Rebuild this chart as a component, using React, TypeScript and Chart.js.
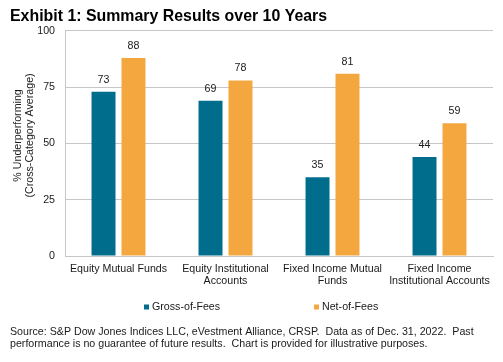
import React, { useEffect, useRef } from 'react';
import { Chart, registerables } from 'chart.js';

Chart.register(...registerables);

const categories: (string | string[])[] = [
  'Equity Mutual Funds',
  ['Equity Institutional', 'Accounts'],
  ['Fixed Income Mutual', 'Funds'],
  ['Fixed Income', 'Institutional Accounts'],
];
const grossOfFees = [73, 69, 35, 44];
const netOfFees = [88, 78, 81, 59];
const seriesNames = ['Gross-of-Fees', 'Net-of-Fees'];
const yMin = 0;
const yMax = 100;
const yStep = 25;
const titleText = 'Exhibit 1: Summary Results over 10 Years';
const yAxisTitle = ['% Underperforming', '(Cross-Category Average)'];
const sourceText = [
  'Source: S&P Dow Jones Indices LLC, eVestment Alliance, CRSP.  Data as of Dec. 31, 2022.  Past',
  'performance is no guarantee of future results.  Chart is provided for illustrative purposes.',
];

const FONT = '"Liberation Sans", Arial, Helvetica, sans-serif';
const FS = 10.67;
const TEAL = '#006D8C';
const ORANGE = '#F5A73F';
const TEXT = '#1a1a1a';
const GRID = '#c6c6c6';

const valueLabels = {
  id: 'valueLabels',
  afterDatasetsDraw(chart: any) {
    const ctx = chart.ctx;
    ctx.save();
    ctx.font = `${FS}px ${FONT}`;
    ctx.fillStyle = TEXT;
    ctx.textAlign = 'center';
    ctx.textBaseline = 'middle';
    chart.data.datasets.forEach((ds: any, i: number) => {
      const meta = chart.getDatasetMeta(i);
      meta.data.forEach((bar: any, j: number) => {
        ctx.fillText(String(ds.data[j]), bar.x, bar.y - 12);
      });
    });
    ctx.restore();
  },
};

const yTitlePlugin = {
  id: 'yTitlePlugin',
  afterDraw(chart: any) {
    const ctx = chart.ctx;
    const area = chart.chartArea;
    const cy = (area.top + area.bottom) / 2 - 8;
    ctx.save();
    ctx.font = `${FS}px ${FONT}`;
    ctx.fillStyle = TEXT;
    ctx.textAlign = 'center';
    ctx.textBaseline = 'middle';
    const xs = [18, 30];
    yAxisTitle.forEach((line, i) => {
      ctx.save();
      ctx.translate(xs[i], cy);
      ctx.rotate(-Math.PI / 2);
      ctx.fillText(line, 0, 0);
      ctx.restore();
    });
    ctx.restore();
  },
};

const bottomLegend = {
  id: 'bottomLegend',
  afterDraw(chart: any) {
    const ctx = chart.ctx;
    const xs = [144, 314];
    const y = 307;
    ctx.save();
    ctx.font = `${FS}px ${FONT}`;
    ctx.textAlign = 'left';
    ctx.textBaseline = 'middle';
    chart.data.datasets.forEach((ds: any, i: number) => {
      const x = xs[i];
      ctx.fillStyle = ds.backgroundColor;
      ctx.fillRect(x, y - 2.5, 5, 5);
      ctx.fillStyle = TEXT;
      ctx.fillText(ds.label, x + 8, y);
    });
    ctx.restore();
  },
};

export default function App() {
  const canvasRef = useRef<HTMLCanvasElement | null>(null);

  useEffect(() => {
    document.body.style.margin = '0';
    const canvas = canvasRef.current;
    if (!canvas) return;
    Chart.defaults.font.family = FONT;
    const chart = new Chart(canvas, {
      type: 'bar',
      data: {
        labels: categories as any,
        datasets: [
          {
            label: seriesNames[0],
            data: grossOfFees,
            backgroundColor: TEAL,
            categoryPercentage: 0.56,
            barPercentage: 0.8,
          },
          {
            label: seriesNames[1],
            data: netOfFees,
            backgroundColor: ORANGE,
            categoryPercentage: 0.56,
            barPercentage: 0.8,
          },
        ],
      },
      options: {
        responsive: false,
        maintainAspectRatio: false,
        animation: false,
        layout: { padding: { left: 10, right: 10, top: 0, bottom: 0 } },
        plugins: {
          legend: { display: false },
          tooltip: { enabled: false },
          title: {
            display: true,
            text: titleText,
            align: 'start',
            color: '#000',
            font: { size: 15.9, weight: 'bold', lineHeight: 1.2, family: FONT },
            padding: { top: 7.2, bottom: 4.6 },
          },
          subtitle: {
            display: true,
            position: 'bottom',
            align: 'start',
            text: sourceText,
            color: TEXT,
            font: { size: FS, weight: 'normal', lineHeight: 1.18, family: FONT },
            padding: { top: 31.4, bottom: 11.4 },
          },
        },
        scales: {
          x: {
            grid: { display: false, drawTicks: false },
            border: { display: true, color: GRID },
            ticks: {
              color: TEXT,
              font: { size: FS, lineHeight: 1.125, family: FONT },
              padding: 7,
              maxRotation: 0,
              minRotation: 0,
              autoSkip: false,
            },
          },
          y: {
            min: yMin,
            max: yMax,
            grid: { color: GRID, drawTicks: false },
            border: { display: true, color: GRID },
            ticks: {
              stepSize: yStep,
              color: TEXT,
              font: { size: FS, family: FONT },
              padding: 10,
            },
            afterFit: (scale: any) => {
              scale.width = 55;
            },
          },
        },
      },
      plugins: [valueLabels, yTitlePlugin, bottomLegend],
    });
    return () => chart.destroy();
  }, []);

  return (
    <div style={{ width: 503, height: 362, background: '#fff' }}>
      <canvas ref={canvasRef} width={503} height={362} style={{ display: 'block' }} />
    </div>
  );
}
